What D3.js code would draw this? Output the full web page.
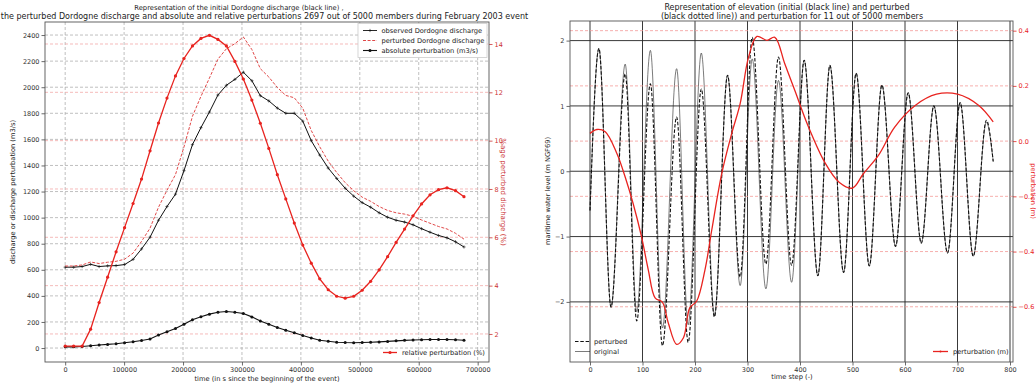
<!DOCTYPE html>
<html><head><meta charset="utf-8">
<script src="https://cdn.jsdelivr.net/npm/d3@7/dist/d3.min.js"></script>
<style>body{margin:0;background:#fff}svg{display:block}text{font-family:"DejaVu Sans",sans-serif}</style>
</head><body><svg id="c" width="1036" height="387"></svg>
<script>
// ---------- LEFT CHART DATA ----------
const dischargeTime = [0,14400,28800,43200,57600,72000,86400,100800,115200,129600,144000,158400,172800,187200,201600,216000,230400,244800,259200,273600,288000,302400,316800,331200,345600,360000,374400,388800,403200,417600,432000,446400,460800,475200,489600,504000,518400,532800,547200,561600,576000,590400,604800,619200,633600,648000,662400,676800];
const observedDischarge = [620,620,625,642,625,630,632,640,680,760,850,980,1085,1180,1360,1560,1690,1810,1940,2015,2060,2115,2050,1935,1895,1840,1800,1800,1740,1590,1480,1380,1300,1225,1165,1115,1080,1037,1003,980,966,945,915,888,863,845,815,775];
const perturbedDischarge = [629,629,637,660,648,658,665,681,728,818,919,1080,1210,1330,1542,1777,1930,2070,2215,2295,2334,2385,2289,2142,2078,1998,1937,1919,1839,1668,1543,1433,1346,1268,1206,1157,1125,1085,1055,1037,1027,1010,982,957,932,913,880,835];
const absolutePerturbation = [9,9,12,18,23,28,33,41,48,58,69,100,125,150,182,217,240,260,275,280,274,265,239,207,183,158,137,117,96,77,60,52,45,42,41,42,44,47,51,55,59,62,64,65,66,66,64,60];
const relativePerturbation = [1.5,1.5,1.5,2.2,3.3,4.35,5.4,6.4,7.4,8.41,9.58,10.73,11.76,12.68,13.40,13.92,14.23,14.36,14.19,13.92,13.28,12.55,11.68,10.72,9.68,8.59,7.59,6.59,5.68,4.93,4.28,3.83,3.56,3.48,3.56,3.81,4.18,4.65,5.20,5.79,6.34,6.89,7.38,7.76,7.97,8.05,7.93,7.68];
const leftXTicks = [0,100000,200000,300000,400000,500000,600000,700000];
const leftYTicks = [0,200,400,600,800,1000,1200,1400,1600,1800,2000,2200,2400];
const leftY2Ticks = [2,4,6,8,10,12,14];

// ---------- RIGHT CHART DATA ----------
const origSteps = [0,17,40,67,89,115,138,165,187,212,237,262,286,309,335,359,384,408,434,457,483,507,532,556,582,606,631,655,681,705,730,755,768];
const origLevel = [-0.6,1.88,-2.08,1.64,-2.15,1.85,-2.4,1.57,-2.35,1.81,-2.2,1.47,-1.75,1.72,-1.80,1.39,-1.70,1.70,-1.60,1.62,-1.55,1.50,-1.45,1.32,-1.15,1.20,-1.10,1.00,-1.25,1.05,-1.30,0.75,0.15];
const pertSteps = [0,17,40,67,89,115,138,165,187,212,237,262,286,309,335,359,384,408,434,457,483,507,532,556,582,606,631,655,681,705,730,755,768];
const pertLevel = [-0.6,1.88,-2.08,1.49,-2.29,1.34,-2.67,0.83,-2.62,1.26,-2.23,1.47,-1.62,2.05,-1.42,1.75,-1.44,1.70,-1.60,1.62,-1.55,1.50,-1.45,1.32,-1.15,1.20,-1.10,1.00,-1.25,1.05,-1.30,0.78,0.15];
const perturbSteps = [0,13,29,51,67,82,98,111,124,138,149,165,178,190,203,219,232,251,270,286,302,318,337,352,371,390,416,448,475,500,520,550,580,620,660,700,740,768];
const perturbValue = [0.028,0.042,0.034,-0.044,-0.13,-0.225,-0.345,-0.466,-0.568,-0.584,-0.658,-0.736,-0.712,-0.604,-0.58,-0.466,-0.321,-0.117,0.028,0.136,0.304,0.379,0.365,0.376,0.28,0.184,0.052,-0.08,-0.15,-0.17,-0.12,-0.05,0.05,0.13,0.17,0.17,0.13,0.07];
const rightXTicks = [0,100,200,300,400,500,600,700,800];
const rightYTicks = [-2,-1,0,1,2];
const rightY2Ticks = [-0.6,-0.4,-0.2,0.0,0.2,0.4];

const svg = d3.select("#c");
const RED = "#e8231f", TICK = 6.5, LAB = 6.7, TITLE = 8;
const fmtMinus = s => s.replace("-", "\u2212");

// ================= LEFT CHART =================
const L = {x0:45,x1:489,y0:22,y1:362};
const xL = d3.scaleLinear([-34250,719250],[L.x0,L.x1]);
const yL = d3.scaleLinear([-107,2500],[L.y1,L.y0]);
const yL2 = d3.scaleLinear([0.84,14.91],[L.y1,L.y0]);
const gL = svg.append("g");
// grids
gL.selectAll(".gx").data(leftXTicks).join("line").attr("x1",d=>xL(d)).attr("x2",d=>xL(d)).attr("y1",L.y0).attr("y2",L.y1).attr("stroke","#b0b0b0").attr("stroke-width",0.8).attr("stroke-dasharray","3,2");
gL.selectAll(".gy").data(leftYTicks).join("line").attr("x1",L.x0).attr("x2",L.x1).attr("y1",d=>yL(d)).attr("y2",d=>yL(d)).attr("stroke","#b0b0b0").attr("stroke-width",0.8).attr("stroke-dasharray","3,2");
gL.selectAll(".gy2").data(leftY2Ticks).join("line").attr("x1",L.x0).attr("x2",L.x1).attr("y1",d=>yL2(d)).attr("y2",d=>yL2(d)).attr("stroke","#f2aaa8").attr("stroke-width",0.8).attr("stroke-dasharray","3,2");

const lineL = arr => d3.line().x((d,i)=>xL(dischargeTime[i])).y(d=>yL(d))(arr);
gL.append("path").attr("d",lineL(observedDischarge)).attr("fill","none").attr("stroke","#111").attr("stroke-width",1);
gL.selectAll(".om").data(observedDischarge).join("path").attr("transform",(d,i)=>`translate(${xL(dischargeTime[i])},${yL(d)})`).attr("d","M-1.6,0H1.6M0,-1.6V1.6").attr("stroke","#111").attr("stroke-width",0.6);
gL.append("path").attr("d",lineL(perturbedDischarge)).attr("fill","none").attr("stroke","#d33").attr("stroke-width",0.9).attr("stroke-dasharray","3,1.6");
gL.append("path").attr("d",lineL(absolutePerturbation)).attr("fill","none").attr("stroke","#111").attr("stroke-width",1.1);
gL.selectAll(".am").data(absolutePerturbation).join("circle").attr("cx",(d,i)=>xL(dischargeTime[i])).attr("cy",d=>yL(d)).attr("r",1.5).attr("fill","#111");
gL.append("path").attr("d",d3.line().x((d,i)=>xL(dischargeTime[i])).y(d=>yL2(d))(relativePerturbation)).attr("fill","none").attr("stroke",RED).attr("stroke-width",1.3);
gL.selectAll(".rm").data(relativePerturbation).join("circle").attr("cx",(d,i)=>xL(dischargeTime[i])).attr("cy",d=>yL2(d)).attr("r",1.6).attr("fill",RED);

// axes
const axL = d3.axisLeft(yL).tickValues(leftYTicks).tickSize(3.5).tickPadding(2).tickFormat(d3.format("d"));
const axB = d3.axisBottom(xL).tickValues(leftXTicks).tickSize(3.5).tickPadding(2).tickFormat(d3.format("d"));
const axR = d3.axisRight(yL2).tickValues(leftY2Ticks).tickSize(3.5).tickPadding(2).tickFormat(d3.format("d"));
const styleAx = (g,col,tcol)=>{g.select(".domain").remove();g.selectAll("line").attr("stroke",col).attr("stroke-width",0.8);g.selectAll("text").attr("fill",tcol).style("font-size",TICK+"px").style("font-family","DejaVu Sans");};
gL.append("g").attr("transform",`translate(${L.x0},0)`).call(axL).call(g=>styleAx(g,"#444","#333"));
gL.append("g").attr("transform",`translate(0,${L.y1})`).call(axB).call(g=>styleAx(g,"#444","#333"));
gL.append("g").attr("transform",`translate(${L.x1},0)`).call(axR).call(g=>styleAx(g,"#c33","#c33"));
gL.append("rect").attr("x",L.x0).attr("y",L.y0).attr("width",L.x1-L.x0).attr("height",L.y1-L.y0).attr("fill","none").attr("stroke","#555").attr("stroke-width",0.9);

// legend top-right
const lg = gL.append("g");
lg.append("rect").attr("x",358).attr("y",23.5).attr("width",129).attr("height",34).attr("fill","#fff").attr("stroke","#ccc").attr("stroke-width",0.8);
const legItems = [
  {t:"observed Dordogne discharge",col:"#111",dash:null,mk:"plus",y:30.5},
  {t:"perturbed Dordogne discharge",col:"#d33",dash:"3,1.6",mk:null,y:40.5},
  {t:"absolute perturbation (m3/s)",col:"#111",dash:null,mk:"dot",y:50.5}];
legItems.forEach(it=>{
  lg.append("line").attr("x1",363).attr("x2",377).attr("y1",it.y).attr("y2",it.y).attr("stroke",it.col).attr("stroke-width",it.mk==="dot"?1.1:0.9).attr("stroke-dasharray",it.dash);
  if(it.mk==="plus") lg.append("path").attr("d",`M368.4,${it.y}H371.6M370,${it.y-1.6}V${it.y+1.6}`).attr("stroke",it.col).attr("stroke-width",0.6);
  if(it.mk==="dot") lg.append("circle").attr("cx",370).attr("cy",it.y).attr("r",1.5).attr("fill",it.col);
  lg.append("text").attr("x",381.5).attr("y",it.y).attr("dy","0.35em").style("font-size",LAB+"px").attr("fill","#222").text(it.t);
});
// legend bottom-right
gL.append("line").attr("x1",383).attr("x2",397).attr("y1",352.5).attr("y2",352.5).attr("stroke",RED).attr("stroke-width",1.3);
gL.append("circle").attr("cx",390).attr("cy",352.5).attr("r",1.6).attr("fill",RED);
gL.append("text").attr("x",402).attr("y",352.5).attr("dy","0.35em").style("font-size",LAB+"px").attr("fill","#222").text("relative perturbation (%)");

// labels and title
gL.append("text").attr("transform",`translate(15,192) rotate(-90)`).attr("text-anchor","middle").style("font-size",LAB+"px").attr("fill","#222").text("discharge or discharge perturbation (m3/s)");
gL.append("text").attr("transform",`translate(501,192) rotate(90)`).attr("text-anchor","middle").style("font-size","7px").attr("fill","#c33").text("%age perturbed discharge (%)");
gL.append("text").attr("x",267).attr("y",381).attr("text-anchor","middle").style("font-size",LAB+"px").attr("fill","#222").text("time (in s since the beginning of the event)");
gL.append("text").attr("x",239).attr("y",9.5).attr("text-anchor","middle").style("font-size","6.8px").attr("fill","#222").text("Representation of the initial Dordogne discharge (black line) ,");
gL.append("text").attr("x",264.5).attr("y",19).attr("text-anchor","middle").style("font-size",TITLE+"px").attr("fill","#222").text("the perturbed Dordogne discharge and absolute and relative perturbations 2697 out of 5000 members during February 2003 event");

// ================= RIGHT CHART =================
const R = {x0:570,x1:1013,y0:21,y1:362};
const xR = d3.scaleLinear([-38.1,805.7],[R.x0,R.x1]);
const yR = d3.scaleLinear([-2.92,2.30],[R.y1,R.y0]);
const yR2 = d3.scaleLinear([-0.80,0.435],[R.y1,R.y0]);
const gR = svg.append("g");
gR.selectAll(".gx").data(rightXTicks).join("line").attr("x1",d=>xR(d)).attr("x2",d=>xR(d)).attr("y1",R.y0).attr("y2",R.y1).attr("stroke","#222").attr("stroke-width",0.9);
gR.selectAll(".gy").data(rightYTicks).join("line").attr("x1",R.x0).attr("x2",R.x1).attr("y1",d=>yR(d)).attr("y2",d=>yR(d)).attr("stroke","#222").attr("stroke-width",0.9);
gR.selectAll(".gy2").data(rightY2Ticks).join("line").attr("x1",R.x0).attr("x2",R.x1).attr("y1",d=>yR2(d)).attr("y2",d=>yR2(d)).attr("stroke","#f49a98").attr("stroke-width",0.8).attr("stroke-dasharray","3,2");

const tide = d3.line().curve(d3.curveMonotoneX);
gR.append("path").attr("d",tide.x((d,i)=>xR(origSteps[i])).y(d=>yR(d))(origLevel)).attr("fill","none").attr("stroke","#222").attr("stroke-width",0.6);
gR.append("path").attr("d",tide.x((d,i)=>xR(pertSteps[i])).y(d=>yR(d))(pertLevel)).attr("fill","none").attr("stroke","#111").attr("stroke-width",1.1).attr("stroke-dasharray","3.5,1.8");
gR.append("path").attr("d",d3.line().curve(d3.curveCatmullRom).x((d,i)=>xR(perturbSteps[i])).y(d=>yR2(d))(perturbValue)).attr("fill","none").attr("stroke",RED).attr("stroke-width",1.3);

const axRL = d3.axisLeft(yR).tickValues(rightYTicks).tickSize(3.5).tickPadding(2).tickFormat(d=>fmtMinus(String(d)));
const axRB = d3.axisBottom(xR).tickValues(rightXTicks).tickSize(3.5).tickPadding(2);
const axRR = d3.axisRight(yR2).tickValues(rightY2Ticks).tickSize(3.5).tickPadding(2).tickFormat(d=>fmtMinus(d3.format(".1f")(d)));
gR.append("g").attr("transform",`translate(${R.x0},0)`).call(axRL).call(g=>styleAx(g,"#444","#333"));
gR.append("g").attr("transform",`translate(0,${R.y1})`).call(axRB).call(g=>styleAx(g,"#444","#333"));
gR.append("g").attr("transform",`translate(${R.x1},0)`).call(axRR).call(g=>styleAx(g,RED,RED));
gR.append("rect").attr("x",R.x0).attr("y",R.y0).attr("width",R.x1-R.x0).attr("height",R.y1-R.y0).attr("fill","none").attr("stroke","#555").attr("stroke-width",0.9);

// legends
gR.append("line").attr("x1",575).attr("x2",590).attr("y1",341.5).attr("y2",341.5).attr("stroke","#111").attr("stroke-width",1.1).attr("stroke-dasharray","3.5,1.8");
gR.append("text").attr("x",594).attr("y",341.5).attr("dy","0.35em").style("font-size",LAB+"px").attr("fill","#222").text("perturbed");
gR.append("line").attr("x1",575).attr("x2",590).attr("y1",351.5).attr("y2",351.5).attr("stroke","#222").attr("stroke-width",0.6);
gR.append("text").attr("x",594).attr("y",351.5).attr("dy","0.35em").style("font-size",LAB+"px").attr("fill","#222").text("original");
gR.append("line").attr("x1",933).attr("x2",948).attr("y1",351.5).attr("y2",351.5).attr("stroke",RED).attr("stroke-width",1.3);
gR.append("circle").attr("cx",940.5).attr("cy",351.5).attr("r",1).attr("fill",RED);
gR.append("text").attr("x",953).attr("y",351.5).attr("dy","0.35em").style("font-size",LAB+"px").attr("fill","#222").text("perturbation (m)");

gR.append("text").attr("transform",`translate(550,191) rotate(-90)`).attr("text-anchor","middle").style("font-size",LAB+"px").attr("fill","#222").text("maritime water level (m NGF69)");
gR.append("text").attr("transform",`translate(1031,191) rotate(90)`).attr("text-anchor","middle").style("font-size",LAB+"px").attr("fill",RED).text("perturbation (m)");
gR.append("text").attr("x",792).attr("y",379).attr("text-anchor","middle").style("font-size",LAB+"px").attr("fill","#222").text("time step (-)");
gR.append("text").attr("x",787).attr("y",9.5).attr("text-anchor","middle").style("font-size",TITLE+"px").attr("fill","#222").text("Representation of elevation (initial (black line) and perturbed");
gR.append("text").attr("x",792).attr("y",18.5).attr("text-anchor","middle").style("font-size",TITLE+"px").attr("fill","#222").text("(black dotted line)) and perturbation for 11 out of 5000 members");
</script></body></html>
